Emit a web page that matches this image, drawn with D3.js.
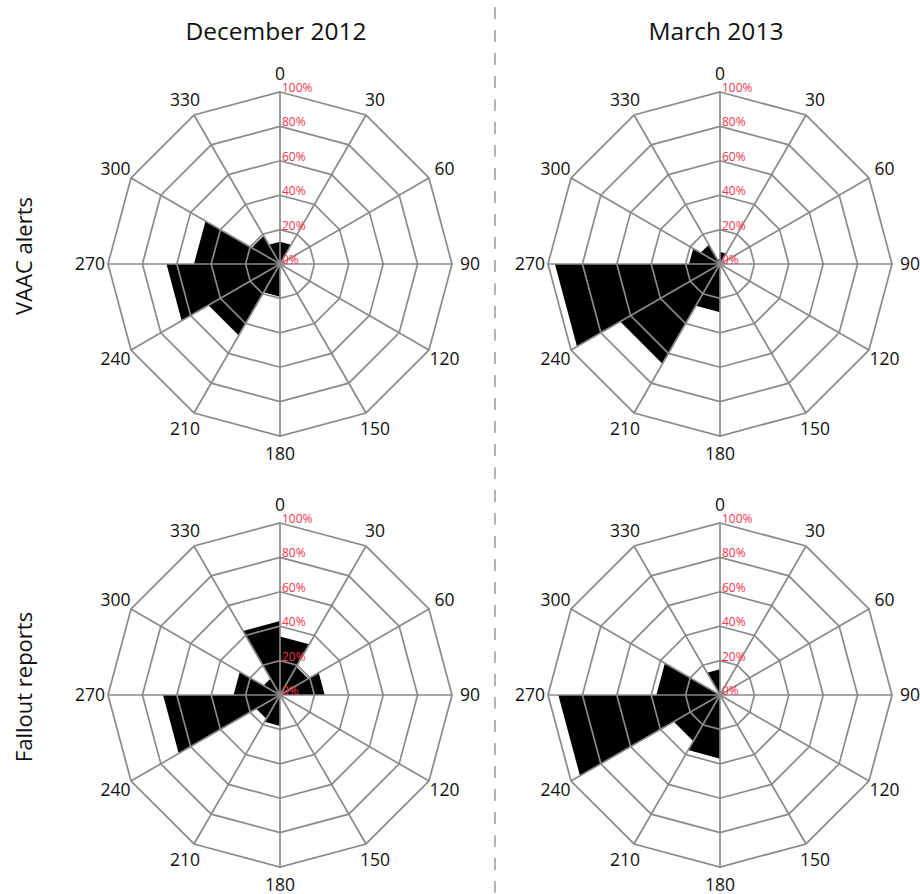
<!DOCTYPE html>
<html>
<head>
<meta charset="utf-8">
<script src="https://cdn.jsdelivr.net/npm/d3@7"></script>
<style>
body { margin: 0; background: #fff; }
text { font-family: "Open Sans", "Noto Sans", sans-serif; }
</style>
</head>
<body>
<svg id="roseSvg" width="920" height="894"></svg>
<script>
// sector start angles (each wedge covers start .. start+30)
var directions = [0, 30, 60, 90, 120, 150, 180, 210, 240, 270, 300, 330];
var ringTicks = [0, 20, 40, 60, 80, 100];
var columnTitles = ["December 2012", "March 2013"];
var rowTitles = ["VAAC alerts", "Fallout reports"];

// % per sector
var vaacDec = [13, 0, 0, 0, 0, 0, 19, 48, 66, 50, 19, 13];
var vaacMar = [7, 0, 0, 0, 0, 0, 28, 67, 96, 18, 13, 3];
var falloutDec = [34, 19, 26, 0, 0, 0, 18, 16, 68, 27, 11, 43];
var falloutMar = [0, 0, 0, 0, 0, 0, 37, 31, 94, 37, 0, 15];

var svg = d3.select("#roseSvg");
var outerRadius = 172;
var labelRadius = 190;
var centersX = [280, 720];
var centersY = [264, 695];

var r = d3.scaleLinear()
        .domain([0, 100])
        .range([0, outerRadius]);

function rad(deg) {
    return deg * Math.PI / 180;
}

var radial = d3.lineRadial()
        .angle(function (d) { return rad(d[0]); })
        .radius(function (d) { return r(d[1]); });

function drawRose(cx, cy, values) {
    var g = svg.append("g").attr("transform", "translate(" + cx + "," + cy + ")");

    // wedges
    g.selectAll(".wedge")
            .data(values)
            .enter()
            .append("path")
            .attr("class", "wedge")
            .attr("d", function (d, i) {
                return radial([[0, 0], [directions[i], d], [directions[i] + 30, d]]) + "Z";
            })
            .attr("fill", "#000");

    // grid rings (dodecagons)
    g.selectAll(".ring")
            .data(ringTicks.slice(1))
            .enter()
            .append("path")
            .attr("class", "ring")
            .attr("d", function (t) {
                return radial(directions.map(function (dir) { return [dir, t]; })) + "Z";
            })
            .attr("fill", "none")
            .attr("stroke", "#8a8a8a")
            .attr("stroke-width", 1.7);

    // spokes
    g.selectAll(".spoke")
            .data(directions)
            .enter()
            .append("line")
            .attr("class", "spoke")
            .attr("x2", function (d) { return d3.pointRadial(rad(d), r(100))[0]; })
            .attr("y2", function (d) { return d3.pointRadial(rad(d), r(100))[1]; })
            .attr("stroke", "#8a8a8a")
            .attr("stroke-width", 1.7);

    // direction labels
    g.selectAll(".dirLabel")
            .data(directions)
            .enter()
            .append("text")
            .attr("class", "dirLabel")
            .attr("x", function (d) { return d3.pointRadial(rad(d), labelRadius)[0]; })
            .attr("y", function (d) { return d3.pointRadial(rad(d), labelRadius)[1]; })
            .attr("dy", "0.35em")
            .attr("text-anchor", "middle")
            .attr("font-size", 17.5)
            .attr("fill", "#111")
            .text(function (d) { return d; });

    // percent labels
    g.selectAll(".pctLabel")
            .data(ringTicks)
            .enter()
            .append("text")
            .attr("class", "pctLabel")
            .attr("x", 2)
            .attr("y", function (t) { return -r(t); })
            .attr("font-size", 12)
            .attr("fill", "#f5334a")
            .text(function (t) { return t + "%"; });
}

drawRose(centersX[0], centersY[0], vaacDec);
drawRose(centersX[1], centersY[0], vaacMar);
drawRose(centersX[0], centersY[1], falloutDec);
drawRose(centersX[1], centersY[1], falloutMar);

// column titles
svg.selectAll(".colTitle")
        .data(columnTitles)
        .enter()
        .append("text")
        .attr("class", "colTitle")
        .attr("x", function (d, i) { return centersX[i] - 4; })
        .attr("y", 40)
        .attr("text-anchor", "middle")
        .attr("font-size", 24.5)
        .attr("fill", "#111")
        .text(function (d) { return d; });

// row titles
svg.selectAll(".rowTitle")
        .data(rowTitles)
        .enter()
        .append("text")
        .attr("class", "rowTitle")
        .attr("transform", function (d, i) {
            return "translate(32," + (centersY[i] - 8) + ") rotate(-90)";
        })
        .attr("text-anchor", "middle")
        .attr("font-size", 22)
        .attr("fill", "#111")
        .text(function (d) { return d; });

// dashed divider
svg.append("line")
        .attr("x1", 495)
        .attr("x2", 495)
        .attr("y1", 7)
        .attr("y2", 894)
        .attr("stroke", "#999")
        .attr("stroke-width", 1.5)
        .attr("stroke-dasharray", "12,11");
</script>
</body>
</html>
